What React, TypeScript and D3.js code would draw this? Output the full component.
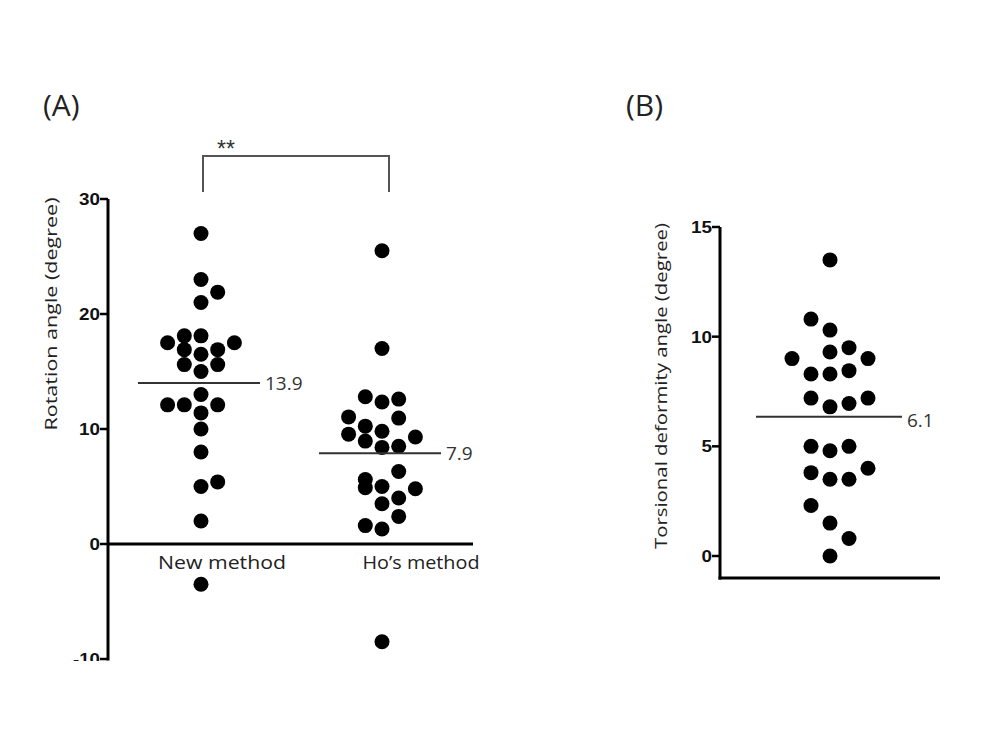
import React from "react";
import * as d3 from "d3";

// ---------- Data ----------
const categoriesA = ["New method", "Ho\u2019s method"];
const newMethodValues = [27, 23, 21.9, 21, 18.1, 18.1, 17.5, 17.5, 16.9, 16.9, 16.5, 15.6, 15.6, 15, 13, 12.1, 12.1, 12.1, 11.4, 10, 8, 5, 5.4, 2, -3.5];
const newMethodLanes = [0, 0, 1, 0, -1, 0, -2, 2, -1, 1, 0, -1, 1, 0, 0, -2, -1, 1, 0, 0, 0, 0, 1, 0, 0];
const hoMethodValues = [25.5, 17, 12.8, 12.35, 12.6, 11.05, 10.95, 10.25, 9.8, 9.55, 9.3, 8.95, 8.4, 8.5, 6.3, 5.6, 4.9, 5.0, 4.8, 4.0, 3.5, 2.4, 1.6, 1.3, -8.5];
const hoMethodLanes = [0, 0, -1, 0, 1, -2, 1, -1, 0, -2, 2, -1, 0, 1, 1, -1, -1, 0, 2, 1, 0, 1, -1, 0, 0];
const meansA = [14.0, 7.9];
const meanLabelsA = ["13.9", "7.9"];
const ticksA = [30, 20, 10, 0, -10];

const torsionValues = [13.5, 10.8, 10.3, 9.5, 9.3, 9.0, 9.0, 8.45, 8.3, 8.3, 7.2, 7.2, 6.95, 6.8, 5.0, 4.8, 5.0, 4.0, 3.8, 3.5, 3.5, 2.3, 1.5, 0.8, 0];
const torsionLanes = [0, -1, 0, 1, 0, -2, 2, 1, -1, 0, -1, 2, 1, 0, -1, 0, 1, 2, -1, 0, 1, -1, 0, 1, 0];
const meanB = 6.35;
const meanLabelB = "6.1";
const ticksB = [15, 10, 5, 0];

function tickLen(t: number) {
  const s = String(t);
  return s.replace("-", "").length * 10.5 + (t < 0 ? 6 : 0);
}

export default function App() {
  // Panel A scales
  const yA = d3.scaleLinear().domain([-10, 30]).range([659, 199]);
  const xA = d3.scalePoint().domain(categoriesA).range([201, 382]);
  const laneA = d3.scaleLinear().domain([-1, 1]).range([-16.7, 16.7]);
  const groupsA = [
    { cat: categoriesA[0], vals: newMethodValues, lanes: newMethodLanes },
    { cat: categoriesA[1], vals: hoMethodValues, lanes: hoMethodLanes },
  ];

  // Panel B scales
  const yB = d3.scaleLinear().domain([0, 15]).range([556, 227]);
  const xBc = 830;
  const laneB = d3.scaleLinear().domain([-1, 1]).range([-19, 19]);

  const tickFont = "'Liberation Sans', Arial, sans-serif";
  const textFont = "'Open Sans', sans-serif";
  const r = 7.5;

  return (
    <svg width={976} height={728} style={{ display: "block" }}>
      <defs>
        <clipPath id="clipA">
          <rect x={0} y={0} width={600} height={661} />
        </clipPath>
      </defs>
      <rect x={0} y={0} width={976} height={728} fill="#fff" />
      <g transform="translate(-8,-8)">
        {/* Panel labels */}
        <text x={43} y={116} fontFamily={textFont} fontSize={30} fill="#222">(A)</text>
        <text x={626} y={116} fontFamily={textFont} fontSize={30} fill="#222">(B)</text>

        {/* Significance bracket */}
        <path
          d={`M${xA(categoriesA[0])! + 2},192 V156 H${xA(categoriesA[1])! + 7} V192`}
          fill="none" stroke="#555" strokeWidth={2}
        />
        <text x={226} y={157} textAnchor="middle" fontFamily={tickFont} fontSize={23} fill="#333">**</text>

        <g clipPath="url(#clipA)">
          {/* Y axis A */}
          <line x1={108} x2={108} y1={yA(30)} y2={yA(-10) + 1.5} stroke="#000" strokeWidth={3} />
          {ticksA.map((t) => (
            <g key={t}>
              <line x1={100} x2={108} y1={yA(t)} y2={yA(t)} stroke="#000" strokeWidth={2.5} />
              <text x={100} y={yA(t)} dy="0.36em" textAnchor="end" fontFamily={tickFont} fontWeight="bold" fontSize={17} fill="#111" textLength={tickLen(t)} lengthAdjust="spacingAndGlyphs">{t}</text>
            </g>
          ))}
          {/* Zero baseline */}
          <line x1={107} x2={473} y1={yA(0)} y2={yA(0)} stroke="#000" strokeWidth={3} />

          {/* Dots */}
          {groupsA.map((g) =>
            g.vals.map((v, i) => (
              <circle key={g.cat + i} cx={xA(g.cat)! + laneA(g.lanes[i])} cy={yA(v)} r={r} fill="#000" />
            ))
          )}
        </g>

        {/* Means A */}
        {groupsA.map((g, i) => (
          <g key={"m" + i}>
            <line x1={xA(g.cat)! - 63} x2={xA(g.cat)! + 59} y1={yA(meansA[i])} y2={yA(meansA[i])} stroke="#333" strokeWidth={2} />
            <text x={xA(g.cat)! + 64} y={yA(meansA[i])} dy="0.36em" fontFamily={textFont} fontSize={19} fill="#333">{meanLabelsA[i]}</text>
          </g>
        ))}

        {/* Category labels */}
        <text x={222} y={569} textAnchor="middle" fontFamily={textFont} fontSize={19} fill="#222" textLength={128} lengthAdjust="spacingAndGlyphs">{categoriesA[0]}</text>
        <text x={421} y={569} textAnchor="middle" fontFamily={textFont} fontSize={19} fill="#222" textLength={117} lengthAdjust="spacingAndGlyphs">{categoriesA[1]}</text>

        {/* Y label A */}
        <text transform="translate(57,314) rotate(-90)" textAnchor="middle" fontFamily={textFont} fontSize={17} fill="#222" textLength={233} lengthAdjust="spacingAndGlyphs">Rotation angle (degree)</text>

        {/* Panel B */}
        <line x1={720} x2={720} y1={yB(15)} y2={579.5} stroke="#000" strokeWidth={3} />
        <line x1={718.5} x2={940} y1={578} y2={578} stroke="#000" strokeWidth={3} />
        {ticksB.map((t) => (
          <g key={t}>
            <line x1={712} x2={720} y1={yB(t)} y2={yB(t)} stroke="#000" strokeWidth={2.5} />
            <text x={712} y={yB(t)} dy="0.36em" textAnchor="end" fontFamily={tickFont} fontWeight="bold" fontSize={17} fill="#111" textLength={tickLen(t)} lengthAdjust="spacingAndGlyphs">{t}</text>
          </g>
        ))}
        {torsionValues.map((v, i) => (
          <circle key={"b" + i} cx={xBc + laneB(torsionLanes[i])} cy={yB(v)} r={r} fill="#000" />
        ))}
        <line x1={756} x2={902} y1={yB(meanB)} y2={yB(meanB)} stroke="#333" strokeWidth={2} />
        <text x={907} y={yB(meanB)} dy="0.55em" fontFamily={textFont} fontSize={19} fill="#333">{meanLabelB}</text>
        <text transform="translate(667,386) rotate(-90)" textAnchor="middle" fontFamily={textFont} fontSize={17} fill="#222" textLength={326} lengthAdjust="spacingAndGlyphs">Torsional deformity angle  (degree)</text>
      </g>
    </svg>
  );
}
